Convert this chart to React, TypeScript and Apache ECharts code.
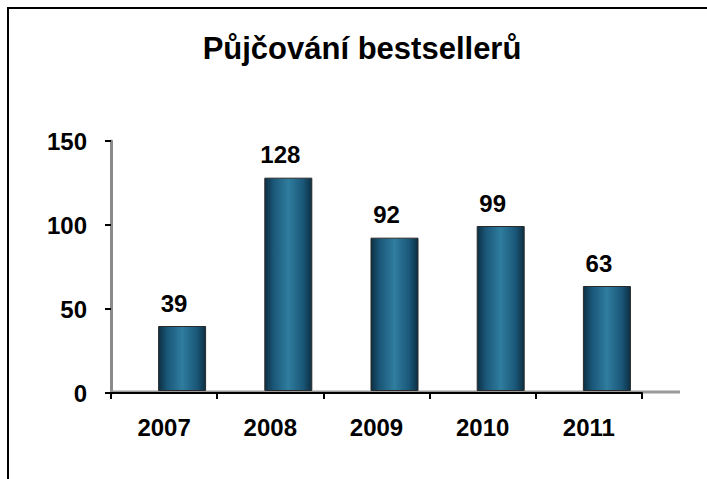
import React, { useEffect, useRef } from "react";
import * as echarts from "echarts";

const titleText = "Půjčování bestsellerů";
const years = ["2007", "2008", "2009", "2010", "2011"];
const loans = [39, 128, 92, 99, 63];
const yTicks = { min: 0, max: 150, interval: 50 };

const FONT = "'Liberation Sans', Arial, sans-serif";

export default function App() {
  const ref = useRef<HTMLDivElement>(null);
  useEffect(() => {
    if (!ref.current) return;
    const chart = echarts.init(ref.current, undefined, { renderer: "svg" });
    const barFill = new echarts.graphic.LinearGradient(0, 0, 1, 0, [
      { offset: 0, color: "#0c2f42" },
      { offset: 0.18, color: "#1a5677" },
      { offset: 0.5, color: "#2f7d9f" },
      { offset: 0.82, color: "#1a5677" },
      { offset: 1, color: "#0c2f42" },
    ]);
    chart.setOption({
      animation: false,
      backgroundColor: "#ffffff",
      title: {
        text: titleText,
        left: 362,
        textAlign: "center",
        top: 33,
        padding: 0,
        textStyle: { fontFamily: FONT, fontSize: 31, fontWeight: "bold", color: "#000" },
      },
      graphic: [
        {
          type: "rect",
          shape: { x: 8, y: 8, width: 760, height: 520 },
          style: { fill: "none", stroke: "#000", lineWidth: 2 },
          silent: true,
          z: 0,
        },
        {
          type: "line",
          shape: { x1: 111, y1: 392, x2: 680, y2: 392 },
          style: { stroke: "#9a9a9a", lineWidth: 3 },
          silent: true,
          z: 1,
        },
      ],
      grid: [
        { left: 111, right: 65, top: 141, bottom: 86 },
        { left: 129, right: 47, top: 141, bottom: 88 },
      ],
      xAxis: [
        {
          type: "category",
          gridIndex: 0,
          data: years,
          boundaryGap: true,
          axisLine: { lineStyle: { color: "#000", width: 2 } },
          axisTick: { show: true, alignWithLabel: false, length: 6, lineStyle: { color: "#000", width: 2 } },
          axisLabel: { fontFamily: FONT, fontSize: 24, fontWeight: "bold", color: "#000", margin: 22 },
          z: 5,
        },
        {
          type: "category",
          gridIndex: 1,
          data: years,
          show: false,
        },
      ],
      yAxis: [
        {
          type: "value",
          gridIndex: 0,
          min: yTicks.min,
          max: yTicks.max,
          interval: yTicks.interval,
          splitLine: { show: false },
          axisLine: { show: true, lineStyle: { color: "#8a8a8a", width: 3 } },
          axisTick: { show: true, length: 6, lineStyle: { color: "#000", width: 2 } },
          axisLabel: { fontFamily: FONT, fontSize: 24, fontWeight: "bold", color: "#000", margin: 24 },
        },
        {
          type: "value",
          gridIndex: 1,
          min: yTicks.min,
          max: yTicks.max,
          interval: yTicks.interval,
          show: false,
          splitLine: { show: false },
        },
      ],
      series: [
        {
          type: "bar",
          xAxisIndex: 1,
          yAxisIndex: 1,
          data: loans,
          barWidth: 48,
          z: 3,
          itemStyle: { color: barFill, borderColor: "#2a2a2a", borderWidth: 1 },
          label: {
            show: true,
            position: "top",
            distance: 11,
            offset: [-8, 0],
            fontFamily: FONT,
            fontSize: 24,
            fontWeight: "bold",
            color: "#000",
          },
        },
      ],
    });
    return () => chart.dispose();
  }, []);
  return (
    <div
      ref={ref}
      style={{ position: "fixed", left: 0, top: 0, width: 707, height: 479 }}
    />
  );
}
